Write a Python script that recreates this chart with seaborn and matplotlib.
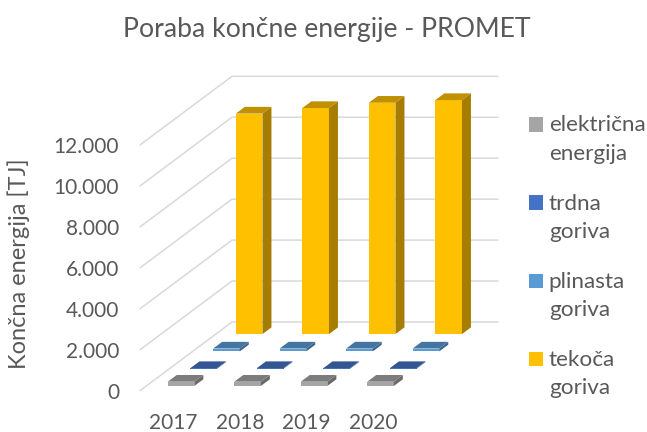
import matplotlib
matplotlib.use("Agg")
import matplotlib.pyplot as plt
import numpy as np
import pandas as pd
import seaborn as sns
from matplotlib.colors import to_rgb
from matplotlib.patches import Polygon
from matplotlib.ticker import FuncFormatter
from matplotlib.transforms import Affine2D

years = ["2017", "2018", "2019", "2020"]
# front row first, back row last
series_names = ["električna\nenergija", "trdna\ngoriva", "plinasta\ngoriva", "tekoča\ngoriva"]
electric = [210, 210, 210, 210]
solid = [30, 30, 30, 30]
gas = [140, 140, 140, 140]
liquid = [10770, 11040, 11300, 11430]
y_ticks = [0, 2000, 4000, 6000, 8000, 10000, 12000]
colors = ["#A5A5A5", "#4472C4", "#5B9BD5", "#FFC000"]

TEXT = "#595959"
GRID = "#D9D9D9"
W, H = 647, 432

df = pd.DataFrame({
    "year": years * 4,
    "series": np.repeat(series_names, 4),
    "value": electric + solid + gas + liquid,
})

sns.set_theme(style="white")
plt.rcParams["font.family"] = ["Lato", "DejaVu Sans"]

fig = plt.figure(figsize=(W / 100, H / 100), dpi=100)
ax = fig.add_axes([140 / W, 1 - 390.7 / H, 266 / W, (390.7 - 145) / H])

# pixel sizes of the oblique projection, turned into data units
px_x = 4 / 266
px_y = 12000 / (390.7 - 145)
row_dx, row_dy = 22.7 * px_x, 17.3 * px_y
start_dx, start_dy = 7.8 * px_x, 4.7 * px_y
bar_dx, bar_dy = 9 * px_x, 6.7 * px_y
wall_dx, wall_dy = 92 * px_x, 68.7 * px_y


def shade(color, factor):
    return tuple(c * factor for c in to_rgb(color))


for row, name in enumerate(series_names):
    offset = Affine2D().translate(start_dx + row * row_dx, start_dy + row * row_dy)
    before = len(ax.patches)
    sns.barplot(
        data=df[df["series"] == name], x="year", y="value", order=years,
        color=colors[row], saturation=1, width=0.4, errorbar=None,
        label=name, ax=ax, zorder=3 + row, linewidth=0,
    )
    for bar in list(ax.patches[before:]):
        bar.set_transform(offset + ax.transData)
        bar.set_clip_on(False)
        x0, x1 = bar.get_x(), bar.get_x() + bar.get_width()
        top = bar.get_height()
        side = Polygon(
            [(x1, 0), (x1 + bar_dx, bar_dy), (x1 + bar_dx, top + bar_dy), (x1, top)],
            facecolor=shade(colors[row], 0.65), edgecolor="none", clip_on=False,
            transform=offset + ax.transData, zorder=3 + row,
        )
        lid = Polygon(
            [(x0, top), (x0 + bar_dx, top + bar_dy), (x1 + bar_dx, top + bar_dy), (x1, top)],
            facecolor=shade(colors[row], 0.75), edgecolor="none", clip_on=False,
            transform=offset + ax.transData, zorder=3 + row,
        )
        ax.add_patch(side)
        ax.add_patch(lid)

# floor and back wall grid
for tick in y_ticks:
    ax.plot([-0.5, -0.5 + wall_dx, 3.5 + wall_dx], [tick, tick + wall_dy, tick + wall_dy],
            color=GRID, lw=1.1, clip_on=False, zorder=1)

ax.set_xlim(-0.5, 3.5)
ax.set_ylim(0, 12000)
ax.set_yticks(y_ticks)
ax.yaxis.set_major_formatter(FuncFormatter(lambda v, _: f"{int(v):,}".replace(",", ".")))
ax.tick_params(axis="y", length=0, pad=15, labelsize=15, labelcolor=TEXT)
ax.tick_params(axis="x", length=0, pad=16, labelsize=15, labelcolor=TEXT)
ax.set_xlabel("")
ax.set_ylabel("")
ax.patch.set_alpha(0)
sns.despine(ax=ax, left=True, bottom=True)

fig.text(19 / W, 1 - 264 / H, "Končna energija [TJ]", rotation=90, ha="center", va="center",
         fontsize=17, color=TEXT)
fig.text(327 / W, 1 - 29 / H, "Poraba končne energije - PROMET", ha="center", va="center",
         fontsize=19.2, color=TEXT)

handles, labels = ax.get_legend_handles_labels()
leg = ax.legend(
    handles, labels,
    loc="upper left", bbox_to_anchor=(529 / W, 1 - 115.5 / H), bbox_transform=fig.transFigure,
    frameon=False, borderpad=0, borderaxespad=0, fontsize=16.2,
    handlelength=0.62, handleheight=0.62, handletextpad=0.26, labelspacing=1.3, labelcolor=TEXT,
)
for text in leg.get_texts():
    text.set_linespacing(1.55)
for handle in leg.legend_handles:
    handle.set_y(handle.get_y() + 11)

fig.savefig("out.png", dpi=100)
